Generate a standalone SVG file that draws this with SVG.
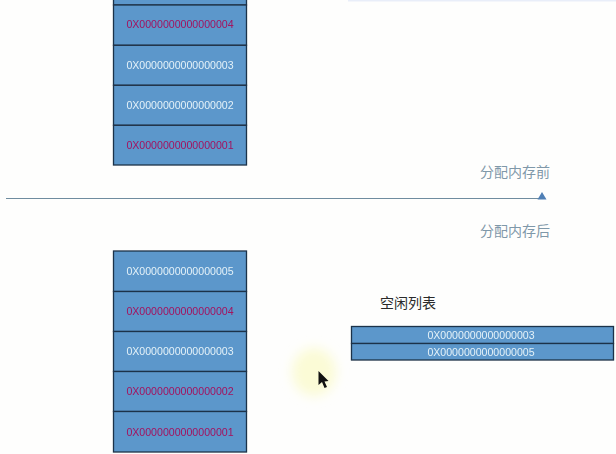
<svg xmlns="http://www.w3.org/2000/svg" width="616" height="454" viewBox="0 0 616 454">
<defs>
<filter id="soft" x="-50%" y="-50%" width="200%" height="200%"><feGaussianBlur stdDeviation="6"/></filter>
<filter id="faint" x="-5%" y="-5%" width="110%" height="110%"><feGaussianBlur stdDeviation="0.35"/></filter>
</defs>
<style>
.cell{fill:#5b97cb;stroke:#1f3348;stroke-width:1.3}
.addr{font:10.6px "Liberation Sans",Arial,sans-serif;text-anchor:middle}
.w{fill:#e4f1f8}
.r{fill:#a3135f}
.cap{font:14px "Noto Sans CJK SC","Noto Sans",sans-serif;fill:#7f98a9}
.head{font:14px "Noto Sans CJK SC","Noto Sans",sans-serif;fill:#2a2a2a}
</style>
<rect width="616" height="454" fill="#fefefd"/>
<rect x="348" y="0" width="268" height="1.500" fill="#e9eef9"/>
<ellipse id="cursor-halo" cx="314" cy="372" rx="22" ry="24" fill="#fbfbd6" filter="url(#soft)"/>
<g id="stack-before" filter="url(#faint)">
<g id="b5"><rect class="cell" x="113.500" y="-35" width="133" height="40"/></g>
<g id="b4"><rect class="cell" x="113.500" y="5" width="133" height="40.300"/><text class="addr r" x="180" y="28">0X0000000000000004</text></g>
<g id="b3"><rect class="cell" x="113.500" y="45.300" width="133" height="40"/><text class="addr w" x="180" y="68.500">0X0000000000000003</text></g>
<g id="b2"><rect class="cell" x="113.500" y="85.300" width="133" height="40"/><text class="addr w" x="180" y="109">0X0000000000000002</text></g>
<g id="b1"><rect class="cell" x="113.500" y="125.300" width="133" height="39.700"/><text class="addr r" x="180" y="149">0X0000000000000001</text></g>
</g>
<g id="connectors"><line x1="6" y1="198.500" x2="542" y2="198.500" stroke="#6f8c9f" stroke-width="1.200"/><path d="M537.500 199.500L542 192L546.500 199.500Z" fill="#4f7fb5"/></g>
<g id="label-before"><text class="cap" x="480" y="177">分配内存前</text></g>
<g id="label-after"><text class="cap" x="480" y="235.500">分配内存后</text></g>
<g id="stack-after" filter="url(#faint)">
<g id="a5"><rect class="cell" x="113.500" y="251" width="133" height="40.500"/><text class="addr w" x="180" y="275">0X0000000000000005</text></g>
<g id="a4"><rect class="cell" x="113.500" y="291.500" width="133" height="40"/><text class="addr r" x="180" y="315">0X0000000000000004</text></g>
<g id="a3"><rect class="cell" x="113.500" y="331.500" width="133" height="40"/><text class="addr w" x="180" y="355">0X0000000000000003</text></g>
<g id="a2"><rect class="cell" x="113.500" y="371.500" width="133" height="40"/><text class="addr r" x="180" y="395">0X0000000000000002</text></g>
<g id="a1"><rect class="cell" x="113.500" y="411.500" width="133" height="40.500"/><text class="addr r" x="180" y="435.500">0X0000000000000001</text></g>
</g>
<g id="free-list-title"><text class="head" x="380" y="307.500">空闲列表</text></g>
<g id="free-list" filter="url(#faint)">
<g id="f3"><rect class="cell" x="351.500" y="326.500" width="262" height="17"/><text class="addr w" x="481" y="338.500">0X0000000000000003</text></g>
<g id="f5"><rect class="cell" x="351.500" y="343.500" width="262" height="16.500"/><text class="addr w" x="481" y="355.500">0X0000000000000005</text></g>
</g>
<path id="cursor" d="M318.500 371L318.500 385L322 382L324.500 388L327 387L324.500 381.500L328.500 381Z" fill="#111"/>
</svg>
